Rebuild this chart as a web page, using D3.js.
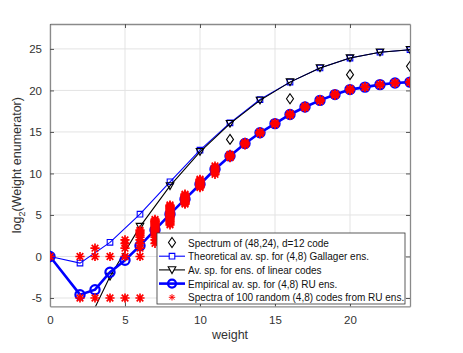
<!DOCTYPE html>
<html>
<head>
<meta charset="utf-8">
<script src="https://cdn.jsdelivr.net/npm/d3@7"></script>
<style>
  body { margin: 0; background: #fff; }
  svg { display: block; }
</style>
</head>
<body>
<div id="chart"></div>
<script>
// weight spectrum values (log2)
const codeWeights = [0, 12, 16, 20, 24];
const codeLog = [0, 14.1, 19.0, 21.9, 22.9];

const gallagerWeights = [0, 2, 4, 6, 8, 10, 12, 14, 16, 18, 20, 22, 24];
const gallagerLog = [0, -0.8, 1.7, 5.1, 9.0, 12.8, 16.1, 18.9, 21.0, 22.7, 23.9, 24.6, 24.9];

const linearWeights = [2, 4, 6, 8, 10, 12, 14, 16, 18, 20, 22, 24];
const linearLog = [-9.9, -2.4, 3.6, 8.5, 12.6, 16.0, 18.8, 21.0, 22.7, 23.9, 24.6, 24.9];

const empWeights = [0, 2, 3, 4, 5, 6, 7, 8, 9, 10, 11, 12, 13, 14, 15, 16, 17, 18, 19, 20, 21, 22, 23, 24];
const empLog = [0, -4.6, -4.0, -1.9, -0.45, 1.3, 3.2, 5.1, 6.9, 8.7, 10.5, 12.1, 13.6, 14.9, 16.0, 17.1, 18.0, 18.8, 19.5, 20.1, 20.4, 20.7, 20.9, 21.0];

// spectra of the 100 random codes, distinct values per weight
const randWeights = [0, 2, 3, 4, 5, 6, 7, 8, 9, 10, 11, 12, 13, 14, 15, 16, 17, 18, 19, 20, 21, 22, 23, 24];
const randLog = [
    [0],
    [-5, 0],
    [-5, 0, 1],
    [-5, 0],
    [-5, 0, 1, 1.58, 2],
    [-5, 0, 1, 1.58, 2, 2.32, 2.58, 2.81, 3, 3.17],
    [1.58, 2, 2.32, 2.58, 2.81, 3, 3.17, 3.32, 3.46, 3.58, 3.7, 3.81, 3.91, 4, 4.09, 4.17, 4.25, 4.32, 4.46],
    [3.81, 4, 4.17, 4.32, 4.46, 4.58, 4.7, 4.81, 4.91, 5, 5.09, 5.17, 5.25, 5.32, 5.46, 5.58, 5.7, 5.81, 5.91, 6, 6.1, 6.2],
    [6.3, 6.4, 6.5, 6.6, 6.7, 6.8, 6.9, 7.0, 7.1, 7.2, 7.3, 7.4, 7.5],
    [8.3, 8.4, 8.5, 8.6, 8.7, 8.8, 8.9, 9.0, 9.1, 9.2, 9.3],
    [9.9, 10.1, 10.3, 10.5, 10.7, 10.9],
    [11.9, 12.0, 12.1, 12.2, 12.3],
    [13.45, 13.55, 13.65, 13.75],
    [14.8, 14.9, 15.0],
    [15.9, 16.0, 16.1],
    [17.0, 17.1, 17.2],
    [17.9, 18.0, 18.1],
    [18.7, 18.8, 18.9],
    [19.4, 19.5, 19.6],
    [20.0, 20.1, 20.2],
    [20.35, 20.45],
    [20.65, 20.75],
    [20.85, 20.95],
    [20.95, 21.05]
];

const xTicks = [0, 5, 10, 15, 20];
const yTicks = [-5, 0, 5, 10, 15, 20, 25];

const legendLabels = [
    "Spectrum of (48,24), d=12 code",
    "Theoretical av. sp. for (4,8) Gallager ens.",
    "Av. sp. for ens. of linear codes",
    "Empirical av. sp. for (4,8) RU ens.",
    "Spectra of 100 random (4,8) codes from RU ens."
];

function createChart() {
    let W = 463, H = 353;
    let box = {left: 50, right: 410, top: 24, bottom: 306.3};
    const font = "'Liberation Sans', Arial, sans-serif";

    const svg = d3.select("#chart")
        .append("svg")
        .attr("width", W)
        .attr("height", H);

    let xScale = d3.scaleLinear().domain([0, 24]).range([box.left, box.right]);
    let yScale = d3.scaleLinear().domain([-6, 28]).range([box.bottom, box.top]);

    svg.append("defs").append("clipPath")
        .attr("id", "clip")
        .append("rect")
        .attr("x", box.left).attr("y", box.top)
        .attr("width", box.right - box.left)
        .attr("height", box.bottom - box.top);

    // grid
    svg.append("g")
        .selectAll("line")
        .data(xTicks)
        .enter().append("line")
        .attr("x1", d => xScale(d)).attr("x2", d => xScale(d))
        .attr("y1", box.top).attr("y2", box.bottom)
        .attr("stroke", "#e3e3e3").attr("stroke-width", 1);
    svg.append("g")
        .selectAll("line")
        .data(yTicks)
        .enter().append("line")
        .attr("y1", d => yScale(d)).attr("y2", d => yScale(d))
        .attr("x1", box.left).attr("x2", box.right)
        .attr("stroke", "#e3e3e3").attr("stroke-width", 1);

    // axes (inward ticks, box on)
    let axisStyle = (g) => {
        g.select(".domain").attr("stroke", "#8a8a8a").attr("stroke-width", 1.3);
        g.selectAll(".tick line").attr("stroke", "#555");
        g.selectAll("text")
            .attr("fill", "#333")
            .attr("font-family", font)
            .attr("font-size", "11.5px");
    };
    svg.append("g")
        .attr("transform", `translate(0,${box.bottom})`)
        .call(d3.axisBottom(xScale).tickValues(xTicks).tickSizeInner(-4).tickSizeOuter(0).tickPadding(10))
        .call(axisStyle);
    svg.append("g")
        .attr("transform", `translate(0,${box.top})`)
        .call(d3.axisTop(xScale).tickValues(xTicks).tickSizeInner(-4).tickSizeOuter(0).tickFormat(""))
        .call(axisStyle);
    svg.append("g")
        .attr("transform", `translate(${box.left},0)`)
        .call(d3.axisLeft(yScale).tickValues(yTicks).tickSizeInner(-4).tickSizeOuter(0).tickPadding(8)
            .tickFormat(d => d < 0 ? "-" + Math.abs(d) : d))
        .call(axisStyle);
    svg.append("g")
        .attr("transform", `translate(${box.right},0)`)
        .call(d3.axisRight(yScale).tickValues(yTicks).tickSizeInner(-4).tickSizeOuter(0).tickFormat(""))
        .call(axisStyle);

    // axis titles
    svg.append("text")
        .attr("x", (box.left + box.right) / 2)
        .attr("y", 339)
        .attr("text-anchor", "middle")
        .attr("font-family", font)
        .attr("font-size", "12.5px")
        .attr("fill", "#333")
        .text("weight");
    let yl = svg.append("text")
        .attr("transform", `translate(21,${(box.top + box.bottom) / 2}) rotate(-90)`)
        .attr("text-anchor", "middle")
        .attr("font-family", font)
        .attr("font-size", "12.5px")
        .attr("fill", "#333");
    yl.append("tspan").text("log");
    yl.append("tspan").attr("font-size", "9px").attr("dy", 4).text("2");
    yl.append("tspan").attr("dy", -4).text("(Weight enumerator)");

    const plot = svg.append("g").attr("clip-path", "url(#clip)");

    // marker shapes
    const diamond = "M0,-5L3.5,0L0,5L-3.5,0Z";
    const square = "M-2.8,-2.8H2.8V2.8H-2.8Z";
    const triDown = "M-3.8,-3.2H3.8L0,3.6Z";
    const star = "M-4.6,0H4.6M0,-4.6V4.6M-3.3,-3.3L3.3,3.3M-3.3,3.3L3.3,-3.3";

    let line = (xs) => d3.line().x((d, i) => xScale(xs[i])).y(d => yScale(d));

    // (48,24) code spectrum: diamonds only
    plot.selectAll(".dia")
        .data(codeLog)
        .enter().append("path")
        .attr("d", diamond)
        .attr("transform", (d, i) => `translate(${xScale(codeWeights[i])},${yScale(d)})`)
        .attr("fill", "none").attr("stroke", "#000").attr("stroke-width", 1.1);

    // Gallager ensemble
    plot.append("path")
        .attr("d", line(gallagerWeights)(gallagerLog))
        .attr("fill", "none").attr("stroke", "#0000ff").attr("stroke-width", 1.1);
    plot.selectAll(".sq")
        .data(gallagerLog)
        .enter().append("path")
        .attr("d", square)
        .attr("transform", (d, i) => `translate(${xScale(gallagerWeights[i])},${yScale(d)})`)
        .attr("fill", "none").attr("stroke", "#0000ff").attr("stroke-width", 1.1);

    // linear codes ensemble
    plot.append("path")
        .attr("d", line(linearWeights)(linearLog))
        .attr("fill", "none").attr("stroke", "#000").attr("stroke-width", 1.1);
    plot.selectAll(".tri")
        .data(linearLog)
        .enter().append("path")
        .attr("d", triDown)
        .attr("transform", (d, i) => `translate(${xScale(linearWeights[i])},${yScale(d)})`)
        .attr("fill", "none").attr("stroke", "#000").attr("stroke-width", 1.1);

    // empirical RU average
    plot.append("path")
        .attr("d", line(empWeights)(empLog))
        .attr("fill", "none").attr("stroke", "#0000ff").attr("stroke-width", 2.6);
    plot.selectAll(".circ")
        .data(empLog)
        .enter().append("circle")
        .attr("cx", (d, i) => xScale(empWeights[i]))
        .attr("cy", d => yScale(d))
        .attr("r", 4.6)
        .attr("fill", "none").attr("stroke", "#0000ff").attr("stroke-width", 2.2);

    // random code spectra
    let pts = [];
    randLog.forEach((vals, i) => vals.forEach(v => pts.push([randWeights[i], v])));
    plot.selectAll(".star")
        .data(pts)
        .enter().append("path")
        .attr("d", star)
        .attr("transform", d => `translate(${xScale(d[0])},${yScale(d[1])})`)
        .attr("fill", "none").attr("stroke", "#ff0000").attr("stroke-width", 1.7);

    // legend
    let lg = {x: 157, y: 233, w: 248, h: 71, row: 13.7};
    const legend = svg.append("g");
    legend.append("rect")
        .attr("x", lg.x).attr("y", lg.y)
        .attr("width", lg.w).attr("height", lg.h)
        .attr("fill", "#fff").attr("stroke", "#333").attr("stroke-width", 0.8);
    let rowY = (i) => lg.y + 9.5 + i * lg.row;
    let sx = lg.x + 15;
    // row 0: diamond
    legend.append("path").attr("d", diamond)
        .attr("transform", `translate(${sx},${rowY(0)})`)
        .attr("fill", "none").attr("stroke", "#000").attr("stroke-width", 1.1);
    // row 1: thin blue + square
    legend.append("line").attr("x1", lg.x + 2).attr("x2", lg.x + 28)
        .attr("y1", rowY(1)).attr("y2", rowY(1))
        .attr("stroke", "#0000ff").attr("stroke-width", 1.1);
    legend.append("path").attr("d", square)
        .attr("transform", `translate(${sx},${rowY(1)})`)
        .attr("fill", "#fff").attr("stroke", "#0000ff").attr("stroke-width", 1.1);
    // row 2: black + triangle
    legend.append("line").attr("x1", lg.x + 2).attr("x2", lg.x + 28)
        .attr("y1", rowY(2)).attr("y2", rowY(2))
        .attr("stroke", "#000").attr("stroke-width", 1.1);
    legend.append("path").attr("d", triDown)
        .attr("transform", `translate(${sx},${rowY(2)})`)
        .attr("fill", "#fff").attr("stroke", "#000").attr("stroke-width", 1.1);
    // row 3: thick blue + circle
    legend.append("line").attr("x1", lg.x + 2).attr("x2", lg.x + 28)
        .attr("y1", rowY(3)).attr("y2", rowY(3))
        .attr("stroke", "#0000ff").attr("stroke-width", 2.6);
    legend.append("circle").attr("cx", sx).attr("cy", rowY(3)).attr("r", 4)
        .attr("fill", "none").attr("stroke", "#0000ff").attr("stroke-width", 2.2);
    // row 4: red star
    legend.append("path").attr("d", star)
        .attr("transform", `translate(${sx},${rowY(4)}) scale(0.7)`)
        .attr("fill", "none").attr("stroke", "#ff0000").attr("stroke-width", 1.4);

    legend.selectAll(".ltxt")
        .data(legendLabels)
        .enter().append("text")
        .attr("x", lg.x + 31)
        .attr("y", (d, i) => rowY(i) + 4)
        .attr("font-family", font)
        .attr("font-size", "10px")
        .attr("fill", "#111")
        .text(d => d);
}
createChart();
</script>
</body>
</html>
